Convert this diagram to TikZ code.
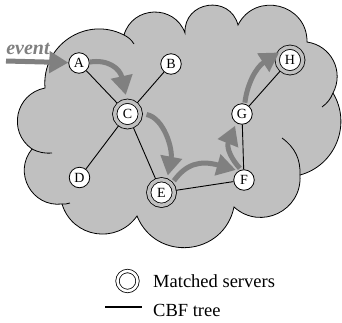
\documentclass[tikz,border=0pt]{standalone}
\usepackage{fontspec}
\setmainfont{Liberation Serif}
\usetikzlibrary{arrows.meta}
\definecolor{cloudgray}{RGB}{192,192,192}
\definecolor{flowgray}{RGB}{128,128,128}
\pgfdeclarelayer{cloudlayer}
\pgfdeclarelayer{treelayer}
\pgfsetlayers{cloudlayer,treelayer,main}
\begin{document}
\begin{tikzpicture}[x=1pt,y=1pt,
  server/.style={circle, draw, fill=white, line width=0.8pt, minimum size=20.5pt, inner sep=0pt, font=\fontsize{14}{14}\selectfont},
  matched/.style={server, minimum size=25.6pt, double=cloudgray, double distance=3.5pt},
  treeedge/.style={line width=0.9pt},
  flow/.style={draw=flowgray, line width=5pt, -{Triangle[length=19pt,width=21pt]}},
  cloudline/.style={line width=0.8pt},
  legendtext/.style={font=\fontsize{18.5}{18.5}\selectfont, inner sep=0pt, anchor=base west}]
\useasboundingbox (0,0) rectangle (342,-322);

% servers
\node[server]  (A) at (79,-63)     {A};
\node[server]  (B) at (171,-64)    {B};
\node[matched] (C) at (127.5,-114) {C};
\node[server]  (D) at (79.5,-177.5) {D};
\node[matched] (E) at (161.5,-192.5) {E};
\node[server]  (F) at (244,-180)   {F};
\node[server]  (G) at (242,-114)   {G};
\node[matched] (H) at (290,-60)    {H};

% cloud
\begin{pgfonlayer}{cloudlayer}
\path[draw, fill=cloudgray, cloudline]
 (45,-88) to[bend left=61, looseness=1.15] (124,-35)
 to[bend left=72, looseness=1.29] (185,-33)
 to[bend left=84, looseness=1.53] (238,-25)
 to[bend left=77, looseness=1.38] (307,-42)
 to[bend left=55, looseness=1.09] (333,-93)
 to[bend left=53, looseness=1.06] (300,-175)
 to[bend left=68, looseness=1.25] (234,-207)
 to[bend left=73, looseness=1.32] (137,-216)
 to[bend left=64, looseness=1.19] (62,-204)
 to[bend left=68, looseness=1.24] (32,-149)
 to[bend left=67, looseness=1.24] (45,-88) -- cycle;
\draw[cloudline] (124,-35) to[bend left=15] (134,-44);
\draw[cloudline] (333,-93) to[bend left=15] (322,-107);
\draw[cloudline] (282,-138) to[bend left=28] (300,-175);
\draw[cloudline] (32,-149) to[bend right=15] (52,-153);
\draw[cloudline] (62,-204) to[bend right=10] (70,-203);
\end{pgfonlayer}

% CBF tree
\begin{pgfonlayer}{treelayer}
\draw[treeedge] (A) -- (C) (B) -- (C) (C) -- (D) (C) -- (E)
  (E) -- (F) (F) -- (G) (G) -- (H);
\end{pgfonlayer}

% event flow
\node[font=\fontsize{20}{20}\selectfont\bfseries\itshape, text=flowgray, inner sep=0pt, anchor=base] (ev) at (28,-54) {event};
\coordinate (evstart) at (6,-61);
\draw[flow] (evstart) -- (A.178);
\draw[flow, shorten >=6pt] (A.5) .. controls (108,-59) and (120,-68.6) .. (C.92);
\draw[flow, shorten <=6pt, shorten >=5pt] (C.3) .. controls (164,-118) and (172.8,-149) .. (E.66);
\draw[flow, shorten <=4pt, shorten >=3pt] (E.40) .. controls (186,-164) and (200,-160) .. (F.120);
\draw[flow, shorten <=2pt, shorten >=3pt] (F.105) .. controls (232,-160) and (226,-148) .. (G.237);
\draw[flow, shorten <=1pt] (G.75) .. controls (247,-85) and (255.5,-67.7) .. (H.145);

% legend
\node[circle, draw, double, double distance=2.6pt, line width=0.8pt, minimum size=20pt, inner sep=0pt] (legC) at (127.5,-281) {};
\node[legendtext] (legM) at (153,-287) {Matched servers};
\coordinate (legL1) at (105,-307);
\coordinate (legL2) at (142,-307);
\draw[line width=1.2pt] (legL1) -- (legL2);
\node[legendtext] (legT) at (153,-316) {CBF tree};
\end{tikzpicture}
\end{document}
